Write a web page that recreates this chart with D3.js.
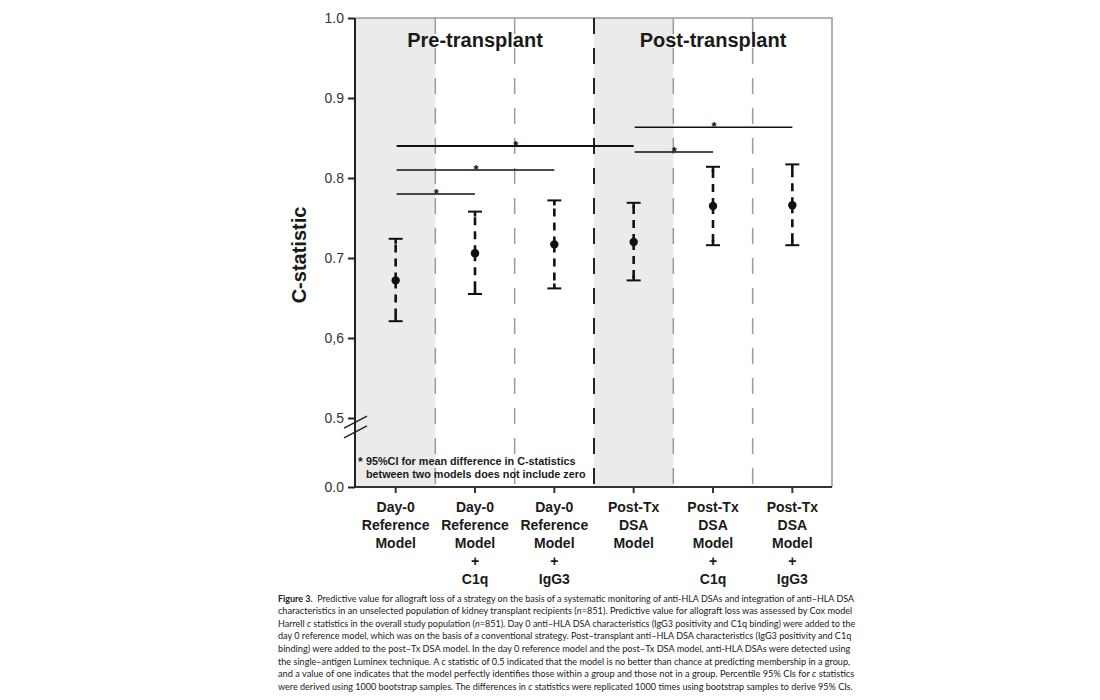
<!DOCTYPE html>
<html>
<head>
<meta charset="utf-8">
<script src="https://cdn.jsdelivr.net/npm/d3@7"></script>
<style>
  html, body { margin: 0; padding: 0; background: #ffffff; }
  svg { display: block; }
</style>
</head>
<body>
<svg id="chart" width="1100" height="700"></svg>
<script>
// ---- data ----
const categories = ["D0Ref", "D0RefC1q", "D0RefIgG3", "PostTx", "PostTxC1q", "PostTxIgG3"];
const categoryLabels = [
  ["Day-0", "Reference", "Model"],
  ["Day-0", "Reference", "Model", "+", "C1q"],
  ["Day-0", "Reference", "Model", "+", "IgG3"],
  ["Post-Tx", "DSA", "Model"],
  ["Post-Tx", "DSA", "Model", "+", "C1q"],
  ["Post-Tx", "DSA", "Model", "+", "IgG3"]
];
const cStatistic = [0.672, 0.706, 0.717, 0.720, 0.765, 0.766];
const ciLower    = [0.621, 0.655, 0.662, 0.672, 0.716, 0.716];
const ciUpper    = [0.724, 0.758, 0.772, 0.769, 0.814, 0.817];
const compFrom   = [0, 0, 0, 3, 3];
const compTo     = [1, 2, 3, 4, 5];
const compLevel  = [0.780, 0.810, 0.840, 0.8325, 0.8635];
const yTickValues = [0, 0.5, 0.6, 0.7, 0.8, 0.9, 1.0];
const yTickLabels = ["0.0", "0.5", "0,6", "0.7", "0.8", "0.9", "1.0"];
const groupTitles = ["Pre-transplant", "Post-transplant"];
const groupRanges = [[0, 2], [3, 5]];
const shadedCats = [0, 3];
const footnote = ["95%CI for mean difference in C-statistics", "between two models does not include zero"];
const captionLines = [
  [["b", "Figure 3."], ["r", "\u00a0\u00a0Predictive value for allograft loss of a strategy on the basis of a systematic monitoring of anti-HLA DSAs and integration of anti\u2013HLA DSA"]],
  [["r", "characteristics in an unselected population of kidney transplant recipients ("], ["i", "n"], ["r", "=851). Predictive value for allograft loss was assessed by Cox model"]],
  [["r", "Harrell "], ["i", "c"], ["r", " statistics in the overall study population ("], ["i", "n"], ["r", "=851). Day 0 anti\u2013HLA DSA characteristics (IgG3 positivity and C1q binding) were added to the"]],
  [["r", "day 0 reference model, which was on the basis of a conventional strategy. Post\u2013transplant anti\u2013HLA DSA characteristics (IgG3 positivity and C1q"]],
  [["r", "binding) were added to the post\u2013Tx DSA model. In the day 0 reference model and the post\u2013Tx DSA model, anti-HLA DSAs were detected using"]],
  [["r", "the single\u2013antigen Luminex technique. A "], ["i", "c"], ["r", " statistic of 0.5 indicated that the model is no better than chance at predicting membership in a group,"]],
  [["r", "and a value of one indicates that the model perfectly identifies those within a group and those not in a group. Percentile 95% CIs for "], ["i", "c"], ["r", " statistics"]],
  [["r", "were derived using 1000 bootstrap samples. The differences in "], ["i", "c"], ["r", " statistics were replicated 1000 times using bootstrap samples to derive 95% CIs."]]
];
const captionWidths = [577, 575, 578, 574, 573, 573, 577, 575];

// ---- layout ----
const svg = d3.select("#chart");
const plotL = 356, plotR = 832, plotT = 18, plotB = 487;
const font = "'Liberation Sans', Arial, Helvetica, sans-serif";

const x = d3.scaleBand().domain(categories).range([plotL, plotR]).padding(0);
const y = d3.scaleLinear().domain([0, 0.5, 1.0]).range([plotB, 418, plotT]);
const cx = i => x(categories[i]) + x.bandwidth() / 2;

// shaded columns
svg.append("g").selectAll("rect").data(shadedCats).join("rect")
  .attr("x", i => x(categories[i]))
  .attr("y", plotT)
  .attr("width", x.bandwidth())
  .attr("height", plotB - plotT)
  .attr("fill", "#ebebeb");

// frame top / right
svg.append("path")
  .attr("d", `M${plotL},${plotT}H${plotR}V${plotB}`)
  .attr("fill", "none").attr("stroke", "#9a9a9a").attr("stroke-width", 1.5);

// dividers
const dividers = d3.range(1, categories.length);
svg.append("g").selectAll("line").data(dividers).join("line")
  .attr("x1", i => x(categories[i])).attr("x2", i => x(categories[i]))
  .attr("y1", plotT).attr("y2", plotB)
  .attr("stroke", i => i === 3 ? "#222" : "#9a9a9a")
  .attr("stroke-width", i => i === 3 ? 2 : 1.5)
  .attr("stroke-dasharray", "16,14");

// group titles
svg.append("g").selectAll("text").data(groupTitles).join("text")
  .attr("x", (d, k) => (x(categories[groupRanges[k][0]]) + x(categories[groupRanges[k][1]]) + x.bandwidth()) / 2)
  .attr("y", 47)
  .attr("text-anchor", "middle")
  .attr("font-family", font).attr("font-weight", "bold").attr("font-size", 20)
  .attr("fill", "#1a1a1a")
  .text(d => d);

// y axis
const yAxis = d3.axisLeft(y).tickValues(yTickValues)
  .tickFormat((d, i) => yTickLabels[i]).tickSize(7).tickPadding(4);
const yg = svg.append("g").attr("transform", `translate(${plotL - 1},0)`).call(yAxis);
yg.select(".domain").attr("stroke", "#222").attr("stroke-width", 2)
  .attr("d", `M0,${plotT}V${plotB}`);
yg.selectAll(".tick line").attr("stroke", "#222").attr("stroke-width", 2);
yg.selectAll(".tick text").attr("font-family", font).attr("font-size", 14).attr("fill", "#333");

// axis break marks
const breakY = [0.47, 0.40];
svg.append("g").selectAll("line").data(breakY).join("line")
  .attr("x1", plotL - 12).attr("x2", plotL + 11)
  .attr("y1", d => y(d) + 6).attr("y2", d => y(d) - 6)
  .attr("stroke", "#222").attr("stroke-width", 1.5);

// x axis
const xAxis = d3.axisBottom(x).tickFormat("").tickSize(6);
const xg = svg.append("g").attr("transform", `translate(0,${plotB})`).call(xAxis);
xg.select(".domain").attr("stroke", "#333").attr("stroke-width", 2).attr("d", `M${plotL - 1},0H${plotR}`);
xg.selectAll(".tick line").attr("stroke", "#333").attr("stroke-width", 2);

// x tick labels (multi-line)
const lab = svg.append("g").selectAll("text").data(categoryLabels).join("text")
  .attr("text-anchor", "middle")
  .attr("font-family", font).attr("font-weight", "bold").attr("font-size", 14)
  .attr("fill", "#1a1a1a");
lab.each(function(lines, i) {
  d3.select(this).selectAll("tspan").data(lines).join("tspan")
    .attr("x", cx(i))
    .attr("y", (d, k) => 512 + k * 18)
    .text(d => d);
});

// footnote
svg.append("text").attr("x", 358).attr("y", 466)
  .attr("font-family", font).attr("font-weight", "bold").attr("font-size", 12).attr("fill", "#1a1a1a")
  .text("*");
svg.append("g").selectAll("text").data(footnote).join("text")
  .attr("x", 366).attr("y", (d, k) => 465 + k * 12.5)
  .attr("font-family", font).attr("font-weight", "bold").attr("font-size", 10.8).attr("fill", "#1a1a1a")
  .text(d => d);

// comparison bars
const comps = compFrom.map((f, k) => ({ from: f, to: compTo[k], level: compLevel[k] }));
const cg = svg.append("g");
cg.selectAll("line").data(comps).join("line")
  .attr("x1", d => cx(d.from) + 1).attr("x2", d => cx(d.to))
  .attr("y1", d => y(d.level)).attr("y2", d => y(d.level))
  .attr("stroke", "#111").attr("stroke-width", (d, k) => k === 2 ? 2.2 : 1.6);
cg.selectAll("text").data(comps).join("text")
  .attr("x", d => (cx(d.from) + cx(d.to)) / 2 + 1)
  .attr("y", d => y(d.level) + 4)
  .attr("text-anchor", "middle")
  .attr("font-family", font).attr("font-weight", "bold").attr("font-size", 13).attr("fill", "#111")
  .text("*");

// error bars
const eb = svg.append("g").selectAll("g").data(cStatistic).join("g");
eb.append("line")
  .attr("x1", (d, i) => cx(i)).attr("x2", (d, i) => cx(i))
  .attr("y1", (d, i) => y(d)).attr("y2", (d, i) => y(ciUpper[i]))
  .attr("stroke", "#111").attr("stroke-width", 2.6).attr("stroke-dasharray", "8,6");
eb.append("line")
  .attr("x1", (d, i) => cx(i)).attr("x2", (d, i) => cx(i))
  .attr("y1", (d, i) => y(d)).attr("y2", (d, i) => y(ciLower[i]))
  .attr("stroke", "#111").attr("stroke-width", 2.6).attr("stroke-dasharray", "8,6");
eb.append("line")
  .attr("x1", (d, i) => cx(i) - 7).attr("x2", (d, i) => cx(i) + 7)
  .attr("y1", (d, i) => y(ciUpper[i])).attr("y2", (d, i) => y(ciUpper[i]))
  .attr("stroke", "#111").attr("stroke-width", 2);
eb.append("line")
  .attr("x1", (d, i) => cx(i)).attr("x2", (d, i) => cx(i))
  .attr("y1", (d, i) => y(ciUpper[i])).attr("y2", (d, i) => y(ciUpper[i]) + 5)
  .attr("stroke", "#111").attr("stroke-width", 2.6);
eb.append("line")
  .attr("x1", (d, i) => cx(i) - 7).attr("x2", (d, i) => cx(i) + 7)
  .attr("y1", (d, i) => y(ciLower[i])).attr("y2", (d, i) => y(ciLower[i]))
  .attr("stroke", "#111").attr("stroke-width", 2);
eb.append("line")
  .attr("x1", (d, i) => cx(i)).attr("x2", (d, i) => cx(i))
  .attr("y1", (d, i) => y(ciLower[i])).attr("y2", (d, i) => y(ciLower[i]) - 5)
  .attr("stroke", "#111").attr("stroke-width", 2.6);
eb.append("circle")
  .attr("cx", (d, i) => cx(i)).attr("cy", d => y(d)).attr("r", 4.2)
  .attr("fill", "#111");

// y axis title
svg.append("text")
  .attr("transform", `translate(306,255) rotate(-90)`)
  .attr("text-anchor", "middle")
  .attr("font-family", font).attr("font-weight", "bold").attr("font-size", 20).attr("fill", "#1a1a1a")
  .text("C-statistic");

// caption: each line sized so its natural width matches the reference line width
const baseSize = 10;
const cap = svg.append("g").selectAll("text").data(captionLines).join("text")
  .attr("x", 278)
  .attr("y", (d, k) => 601.5 + k * 12.6)
  .attr("font-family", "Lato, 'Open Sans', sans-serif").attr("font-size", baseSize).attr("fill", "#1a1a1a");
cap.each(function(parts, k) {
  const t = d3.select(this);
  t.selectAll("tspan").data(parts).join("tspan")
    .attr("font-weight", d => d[0] === "b" ? "bold" : "normal")
    .attr("font-style", d => d[0] === "i" ? "italic" : "normal")
    .text(d => d[1]);
  const w = this.getComputedTextLength();
  if (w > 0) t.attr("font-size", Math.min(11, baseSize * captionWidths[k] / w));
});
</script>
</body>
</html>
